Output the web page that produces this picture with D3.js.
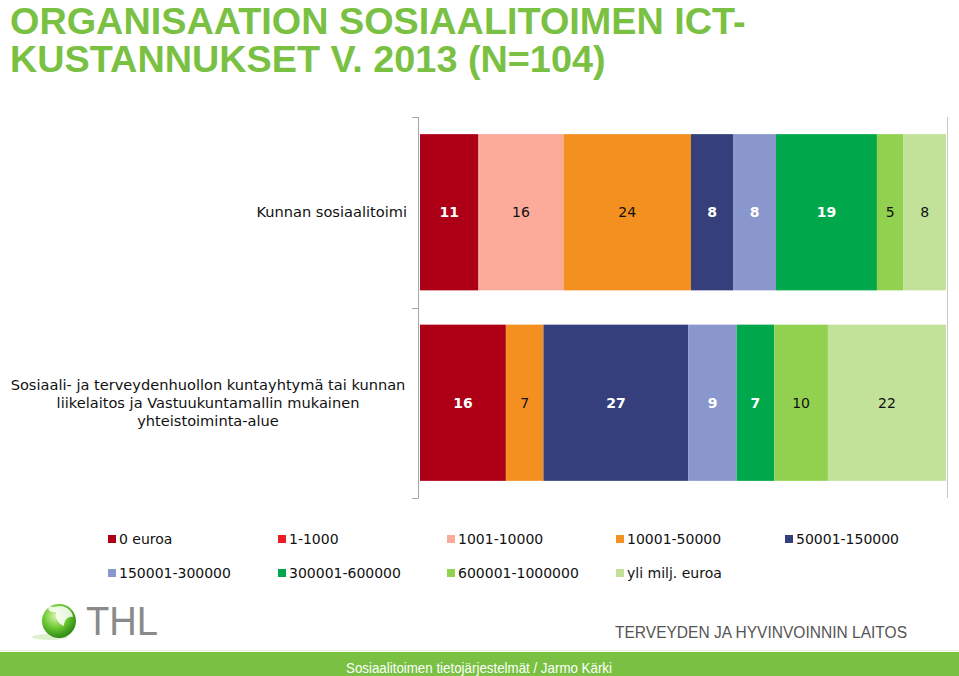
<!DOCTYPE html>
<html><head><meta charset="utf-8">
<script src="https://cdn.jsdelivr.net/npm/d3@7"></script>
<style>
html,body{margin:0;padding:0;background:#fff;}
svg{display:block;}
</style></head>
<body>
<svg id="c" width="959" height="676"></svg>
<script>
const titleLines = ["ORGANISAATION SOSIAALITOIMEN ICT-", "KUSTANNUKSET V. 2013 (N=104)"];
const categories = ["Kunnan sosiaalitoimi", "Sosiaali- ja terveydenhuollon kuntayhtymä tai kunnan liikelaitos ja Vastuukuntamallin mukainen yhteistoiminta-alue"];
const categoryLines = [["Kunnan sosiaalitoimi"], ["Sosiaali- ja terveydenhuollon kuntayhtymä tai kunnan", "liikelaitos ja Vastuukuntamallin mukainen", "yhteistoiminta-alue"]];
const seriesNames = ["0 euroa", "1-1000", "1001-10000", "10001-50000", "50001-150000", "150001-300000", "300001-600000", "600001-1000000", "yli milj. euroa"];
const seriesColors = ["#ad0017", "#ec1c24", "#fcab9b", "#f4901f", "#353f7b", "#8a97cc", "#00a84b", "#92d050", "#c2e199"];
const labelWhite = [true, false, false, false, true, true, true, false, false];
const valuesKunnan = [11, 0, 16, 24, 8, 8, 19, 5, 8];
const valuesYhtyma = [16, 0, 0, 7, 27, 9, 7, 10, 22];
const footerText = "Sosiaalitoimen tietojärjestelmät / Jarmo Kärki";
const orgText = "TERVEYDEN JA HYVINVOINNIN LAITOS";

const svg = d3.select("#c");
const green = "#7ac143";

// Title
svg.append("g").selectAll("text").data(titleLines).join("text")
  .attr("x", 10).attr("y", (d,i) => 34 + i*38)
  .attr("font-family", "Liberation Sans, Arial, sans-serif")
  .attr("font-weight", "bold").attr("font-size", 37.8)
  .attr("fill", green).text(d => d);

// Scales
const x = d3.scaleLinear().domain([0, 1]).range([420, 946]);
const y = d3.scaleBand().domain(categories).range([117, 498]).paddingInner(0.18).paddingOuter(0.09);

const rows = [valuesKunnan, valuesYhtyma];
rows.forEach((vals, ri) => {
  const total = d3.sum(vals);
  let cum = 0;
  const segs = vals.map((v, si) => { const s = {v, si, x0: cum/total, x1: (cum+v)/total}; cum += v; return s; });
  const g = svg.append("g");
  g.selectAll("rect").data(segs.filter(s => s.v > 0)).join("rect")
    .attr("x", s => x(s.x0)).attr("width", s => x(s.x1) - x(s.x0))
    .attr("y", y(categories[ri])).attr("height", y.bandwidth())
    .attr("fill", s => seriesColors[s.si]);
  g.selectAll("text").data(segs.filter(s => s.v > 0)).join("text")
    .attr("x", s => (x(s.x0) + x(s.x1))/2)
    .attr("y", y(categories[ri]) + y.bandwidth()/2 + 5)
    .attr("text-anchor", "middle")
    .attr("font-family", "DejaVu Sans, Verdana, sans-serif")
    .attr("font-size", 14)
    .attr("font-weight", s => labelWhite[s.si] ? "bold" : "normal")
    .attr("fill", s => labelWhite[s.si] ? "#fff" : "#111")
    .text(s => s.v);
});

// Axis line and ticks
const [r0, r1] = y.range();
const mid = (y(categories[0]) + y.bandwidth() + y(categories[1])) / 2;
const axisG = svg.append("g").attr("stroke", "#a6a6a6").attr("stroke-width", 1);
axisG.append("line").attr("x1", 418.5).attr("x2", 418.5).attr("y1", r0).attr("y2", r1);
[r0, mid, r1].forEach(t => axisG.append("line").attr("x1", 412).attr("x2", 418.5).attr("y1", Math.round(t)+0.5).attr("y2", Math.round(t)+0.5));
svg.append("line").attr("x1", 947.5).attr("x2", 947.5).attr("y1", r0).attr("y2", r1).attr("stroke", "#c8c8c8");

// Category labels
categories.forEach((c, ci) => {
  const lines = categoryLines[ci];
  const cy = y(c) + y.bandwidth()/2;
  const lh = 18;
  const startY = cy - (lines.length-1)*lh/2 + 5;
  const multi = lines.length > 1;
  svg.append("g").selectAll("text").data(lines).join("text")
    .attr("x", multi ? 208 : 407)
    .attr("y", (d,i) => startY + i*lh)
    .attr("text-anchor", multi ? "middle" : "end")
    .attr("font-family", "DejaVu Sans, Verdana, sans-serif")
    .attr("font-size", 14.6).attr("fill", "#111").text(d => d);
});

// Legend
const legendCols = [108, 278, 447, 616, 785];
const leg = svg.append("g");
seriesNames.forEach((n, i) => {
  const col = i % 5, row = Math.floor(i / 5);
  const lx = legendCols[col], ly = 539 + row*34;
  leg.append("rect").attr("x", lx).attr("y", ly-4).attr("width", 8).attr("height", 8).attr("fill", seriesColors[i]);
  leg.append("text").attr("x", lx + 11).attr("y", ly + 5)
    .attr("font-family", "DejaVu Sans, Verdana, sans-serif")
    .attr("font-size", 14).attr("fill", "#111").text(n);
});

// Logo
const defs = svg.append("defs");
const rg = defs.append("radialGradient").attr("id", "sph").attr("cx", "40%").attr("cy", "35%").attr("r", "65%");
rg.append("stop").attr("offset", "0%").attr("stop-color", "#d9f5a8");
rg.append("stop").attr("offset", "55%").attr("stop-color", "#6cc832");
rg.append("stop").attr("offset", "100%").attr("stop-color", "#2f8a14");
svg.append("ellipse").attr("cx", 50).attr("cy", 637).attr("rx", 18).attr("ry", 3).attr("fill", "#cfe8b8").attr("opacity", 0.7);
svg.append("circle").attr("cx", 59).attr("cy", 621).attr("r", 17).attr("fill", "url(#sph)");
svg.append("path").attr("d", "M60,606 C66,606 72,610 73,617 C68,616 64,620 64,626 C58,624 55,618 56,612 C50,613 47,610 49,606 C53,608 57,606 60,606 Z")
  .attr("fill", "#ffffff").attr("opacity", 0.85);
svg.append("text").attr("x", 86).attr("y", 635)
  .attr("font-family", "Liberation Sans, Arial, sans-serif")
  .attr("font-size", 40).attr("fill", "#8a8a8a")
  .attr("textLength", 72).attr("lengthAdjust", "spacingAndGlyphs").text("THL");

svg.append("text").attr("x", 615).attr("y", 638)
  .attr("font-family", "Liberation Sans, Arial, sans-serif")
  .attr("font-size", 16).attr("fill", "#555")
  .attr("textLength", 292).attr("lengthAdjust", "spacingAndGlyphs").text(orgText);

// Footer
svg.append("line").attr("x1", 0).attr("x2", 959).attr("y1", 650.5).attr("y2", 650.5).attr("stroke", "#e4f1d8");
svg.append("rect").attr("x", 0).attr("y", 652).attr("width", 959).attr("height", 24).attr("fill", green);
svg.append("text").attr("x", 346).attr("y", 673)
  .attr("font-family", "Liberation Sans, Arial, sans-serif")
  .attr("font-size", 15).attr("fill", "#fff")
  .attr("textLength", 266).attr("lengthAdjust", "spacingAndGlyphs").text(footerText);
</script>
</body></html>
